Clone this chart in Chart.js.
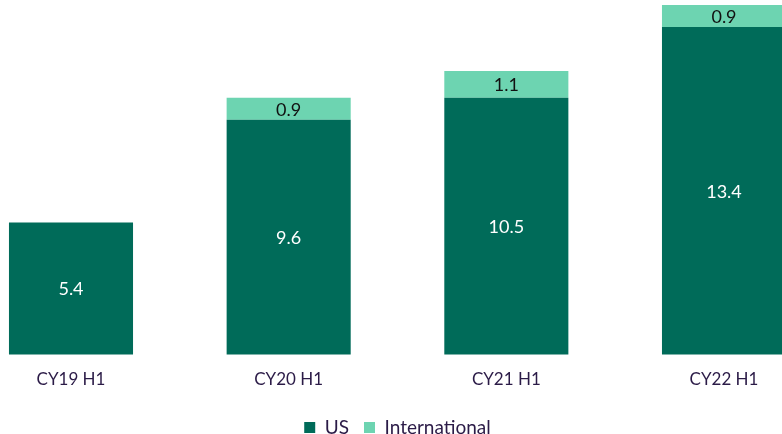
<!DOCTYPE html>
<html>
<head>
<meta charset="utf-8">
<script src="https://cdn.jsdelivr.net/npm/chart.js@4"></script>
<style>
  html, body { margin: 0; padding: 0; background: #fff; }
  #wrap { width: 782px; height: 434px; }
</style>
</head>
<body>
<div id="wrap"><canvas id="revChart"></canvas></div>
<script>
const categories = ["CY19 H1", "CY20 H1", "CY21 H1", "CY22 H1"];
const usValues = [5.4, 9.6, 10.5, 13.4];
const intlValues = [null, 0.9, 1.1, 0.9];

const FONT = "Lato, 'Noto Sans', sans-serif";

// draw the value in the middle of each bar
const barLabels = {
    id: "barLabels",
    afterDatasetsDraw(chart) {
        const ctx = chart.ctx;
        ctx.save();
        ctx.textAlign = "center";
        ctx.textBaseline = "middle";
        chart.data.datasets.forEach(function(ds, i) {
            const meta = chart.getDatasetMeta(i);
            meta.data.forEach(function(bar, j) {
                const v = ds.data[j];
                if (v == null) return;
                const mid = (bar.y + bar.base) / 2;
                ctx.fillStyle = i === 0 ? "#ffffff" : "#111111";
                ctx.font = "18px " + FONT;
                ctx.fillText(v.toFixed(1), bar.x, mid + 1);
            });
        });
        ctx.restore();
    }
};

new Chart(document.getElementById("revChart"), {
    type: "bar",
    data: {
        labels: categories,
        datasets: [
            { label: "US", data: usValues, backgroundColor: "#006b59", clip: false },
            { label: "International", data: intlValues, backgroundColor: "#6dd4b1", clip: false }
        ]
    },
    options: {
        responsive: true,
        maintainAspectRatio: false,
        animation: false,
        categoryPercentage: 1,
        barPercentage: 0.57,
        layout: { padding: { left: 71, right: 58, top: 0, bottom: -13 } },
        scales: {
            x: {
                stacked: true,
                offset: false,
                grid: { display: false, drawTicks: false },
                border: { display: false },
                ticks: { color: "#2b1b47", font: { family: FONT, size: 17 }, padding: 15 },
                afterFit: function(scale) { scale.height -= 2; }
            },
            y: {
                stacked: true,
                display: false,
                min: 0,
                max: 14.5
            }
        },
        plugins: {
            legend: {
                position: "bottom",
                labels: {
                    color: "#2b1b47",
                    font: { family: FONT, size: 19 },
                    boxWidth: 11,
                    boxHeight: 11,
                    padding: 15
                }
            },
            tooltip: { enabled: false }
        }
    },
    plugins: [barLabels]
});
</script>
</body>
</html>
